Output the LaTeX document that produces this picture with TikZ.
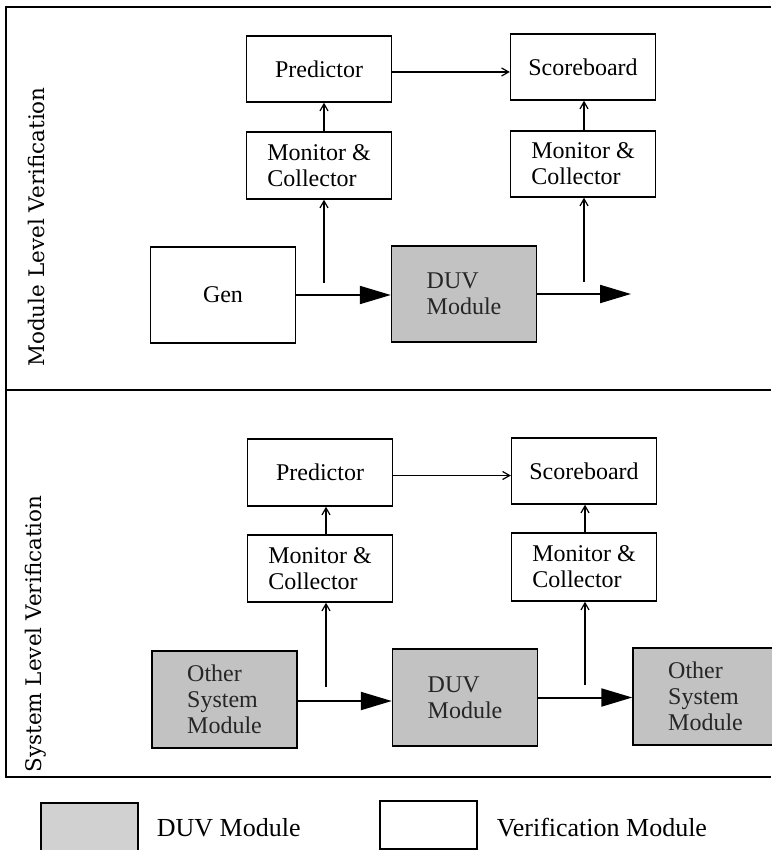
\documentclass[tikz,border=0pt]{standalone}
\usepackage{fontspec}
\setmainfont{Liberation Serif}
\newfontfamily\sidefont{DejaVu Serif}
\usetikzlibrary{arrows.meta}

\begin{document}
\begin{tikzpicture}[x=1pt,y=-1pt,
  blk/.style={draw=black, line width=1.4pt, minimum width=145pt, inner sep=0pt,
              align=left, font=\fontsize{24}{26}\selectfont},
  vmod/.style={blk, fill=white},
  dmod/.style={blk, fill=black!24, text=black!85},
  tap/.style={line width=1.2pt, -{Straight Barb[length=7pt,width=8pt]}},
  feed/.style={line width=2pt, -{Triangle[length=31pt,width=18pt]}},
  frame/.style={line width=1.4pt},
  side/.style={rotate=90, inner sep=0pt, font=\sidefont\fontsize{21.5}{24}\selectfont},
  keytext/.style={anchor=west, inner sep=0pt, font=\fontsize{26}{30}\selectfont}
]
\useasboundingbox (0,0) rectangle (771,850);

% outer frame, split into two bands
\draw[frame] (771,7) -- (6,7) -- (6,777) -- (771,777);
\draw[frame] (6,390) -- (771,390);

% band titles
\node[side] (lbl1) at (36,227) {Module Level Verification};
\node[side] (lbl2) at (36,634) {System Level Verification};

% ---------- module level ----------
\node[vmod, minimum height=66pt] (pred1)  at (319,69)    {Predictor};
\node[vmod, minimum height=66pt] (score1) at (583,67)    {Scoreboard};
\node[vmod, minimum height=67pt] (mon1)   at (319,165.5) {Monitor \&\\Collector};
\node[vmod, minimum height=66pt] (mon2)   at (583,164)   {Monitor \&\\Collector};
\node[vmod, minimum height=96pt] (gen)    at (223,295)   {Gen};
\node[dmod, minimum height=96pt] (duv1)   at (464,294)   {DUV\\Module};

\coordinate (out1) at (631,294);
\coordinate (tap1) at (324,283);
\coordinate (tap2) at (584,282);

\draw[feed] (gen.east) -- (gen.east -| duv1.west);
\draw[feed] (duv1.east) -- (out1);
\draw[tap] (tap1) -- (tap1 |- mon1.south);
\draw[tap] (tap2) -- (tap2 |- mon2.south);
\draw[tap] (mon1.north -| tap1) -- (pred1.south -| tap1);
\draw[tap] (mon2.north -| tap2) -- (score1.south -| tap2);
\draw[tap] ([yshift=-3pt]pred1.east) -- ([yshift=-3pt]pred1.east -| score1.west);

% ---------- system level ----------
\node[vmod, minimum height=67pt] (pred2)  at (320,472.5) {Predictor};
\node[vmod, minimum height=66pt] (score2) at (584,471)   {Scoreboard};
\node[vmod, minimum height=67pt] (mon3)   at (320,568.5) {Monitor \&\\Collector};
\node[vmod, minimum height=68pt] (mon4)   at (584,567)   {Monitor \&\\Collector};
\node[dmod, minimum height=97pt] (oth1)   at (224.5,699.5) {Other\\System\\Module};
\node[dmod, minimum height=97pt] (duv2)   at (465,697.5) {DUV\\Module};
\node[dmod, minimum height=97pt] (oth2)   at (705.5,696.5) {Other\\System\\Module};

\coordinate (tap3) at (326,687);
\coordinate (tap4) at (585,685);

\draw[feed] ([yshift=-1.5pt]oth1.east) -- ([yshift=-1.5pt]oth1.east -| duv2.west);
\draw[feed] (duv2.east) -- (duv2.east -| oth2.west);
\draw[tap] (tap3) -- (tap3 |- mon3.south);
\draw[tap] (tap4) -- (tap4 |- mon4.south);
\draw[tap] (mon3.north -| tap3) -- (pred2.south -| tap3);
\draw[tap] (mon4.north -| tap4) -- (score2.south -| tap4);
\draw[tap] ([yshift=-3pt]pred2.east) -- ([yshift=-3pt]pred2.east -| score2.west);

% ---------- key ----------
\node[blk, fill=black!18, minimum width=97pt, minimum height=49pt] (key1) at (89.5,827.5) {};
\node[keytext] (keyt1) at ([xshift=18pt]key1.east) {DUV Module};
\node[blk, fill=white, minimum width=97pt, minimum height=48pt] (key2) at (428.5,825) {};
\node[keytext] (keyt2) at ([xshift=19pt,yshift=-3pt]key2.east) {Verification Module};
\end{tikzpicture}
\end{document}
